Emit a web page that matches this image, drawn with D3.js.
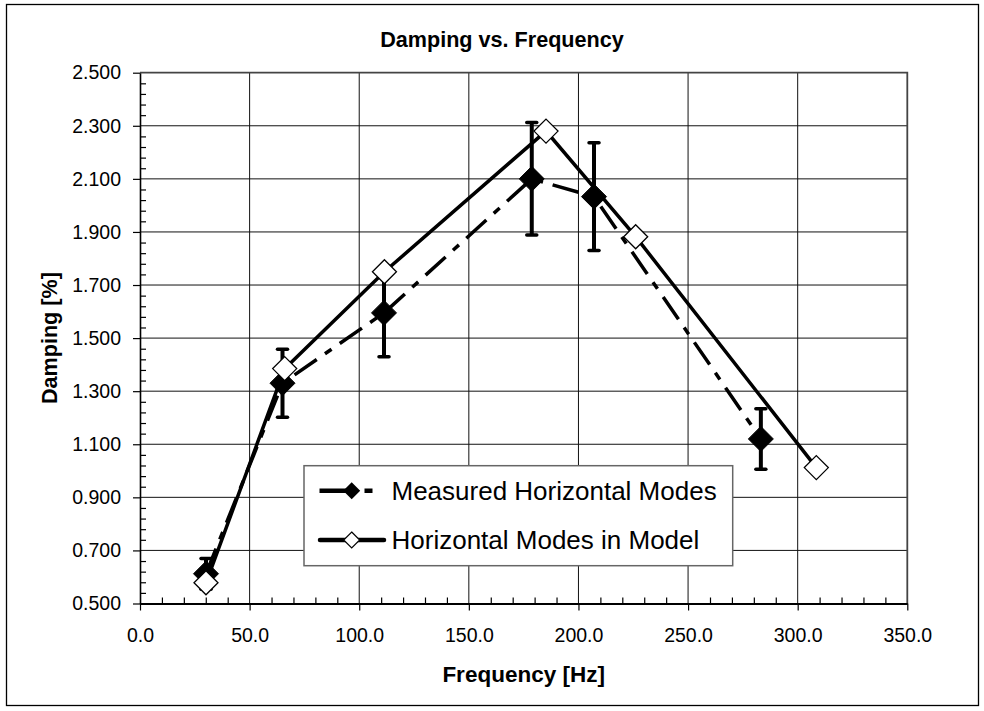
<!DOCTYPE html>
<html>
<head>
<meta charset="utf-8">
<script src="https://cdn.jsdelivr.net/npm/d3@7"></script>
<style>
  html, body { margin: 0; padding: 0; background: #fff; }
  svg { display: block; font-family: "Liberation Sans", Arial, sans-serif; }
</style>
</head>
<body>
<svg id="chart" width="984" height="711"></svg>
<script>
// Measured damping of horizontal modes, with error bars
const measFreq = [30.1, 65.0, 111.3, 178.7, 207.1, 283.2];
const measDamp = [0.612, 1.330, 1.595, 2.100, 2.033, 1.120];
const measErr  = [0.058, 0.128, 0.165, 0.212, 0.203, 0.114];

// Horizontal modes predicted by the model
const modelFreq = [30.1, 66.0, 111.5, 185.2, 226.1, 308.5];
const modelDamp = [0.578, 1.385, 1.750, 2.280, 1.882, 1.012];

// Axis ticks
const xTicks = [0, 50, 100, 150, 200, 250, 300, 350];
const yTicks = [0.5, 0.7, 0.9, 1.1, 1.3, 1.5, 1.7, 1.9, 2.1, 2.3, 2.5];

const seriesNames = ["Measured Horizontal Modes", "Horizontal Modes in Model"];

const svg = d3.select("#chart");
const plot = { left: 140, right: 907.3, top: 72.7, bottom: 603.5 };

const x = d3.scaleLinear().domain([0, 350]).range([plot.left, plot.right]);
const y = d3.scaleLinear().domain([0.5, 2.5]).range([plot.bottom, plot.top]);

// outer chart frame
svg.append("rect")
  .attr("x", 6.5).attr("y", 4.5).attr("width", 972).attr("height", 701)
  .attr("fill", "#fff").attr("stroke", "#000").attr("stroke-width", 1.3);

// title
svg.append("text")
  .attr("x", 502).attr("y", 46.5)
  .attr("text-anchor", "middle")
  .attr("font-size", 21.6).attr("font-weight", "bold")
  .text("Damping vs. Frequency");

// gridlines
const grid = svg.append("g");
grid.selectAll("line.h").data(yTicks.slice(1, -1)).join("line")
  .attr("x1", plot.left).attr("x2", plot.right)
  .attr("y1", d => y(d)).attr("y2", d => y(d))
  .attr("stroke", "#111").attr("stroke-width", 1);
grid.selectAll("line.v").data(xTicks.slice(1, -1)).join("line")
  .attr("y1", plot.top).attr("y2", plot.bottom)
  .attr("x1", d => x(d)).attr("x2", d => x(d))
  .attr("stroke", "#111").attr("stroke-width", 1);

// plot area border (top and right)
svg.append("path")
  .attr("d", `M${plot.left},${plot.top}H${plot.right}V${plot.bottom}`)
  .attr("fill", "none").attr("stroke", "#444").attr("stroke-width", 1.8);

// minor ticks (inside)
const xMinor = d3.range(10, 350, 10).filter(v => v % 50 !== 0);
const yMinor = d3.range(0, 50).map(i => 0.5 + i * 0.04).filter(v => Math.abs((v - 0.5) / 0.2 - Math.round((v - 0.5) / 0.2)) > 0.01);

svg.append("g")
  .attr("transform", `translate(0,${plot.bottom})`)
  .call(d3.axisTop(x).tickValues(xMinor).tickSize(6).tickFormat(""))
  .call(g => g.select(".domain").remove())
  .call(g => g.selectAll("line").attr("stroke", "#000").attr("stroke-width", 1.2));

svg.append("g")
  .attr("transform", `translate(${plot.left},0)`)
  .call(d3.axisRight(y).tickValues(yMinor).tickSize(6).tickFormat(""))
  .call(g => g.select(".domain").remove())
  .call(g => g.selectAll("line").attr("stroke", "#000").attr("stroke-width", 1.2));

// major axes
const xAxis = svg.append("g")
  .attr("transform", `translate(0,${plot.bottom})`)
  .call(d3.axisBottom(x).tickValues(xTicks).tickSize(7).tickSizeOuter(0).tickPadding(18).tickFormat(d3.format(".1f")));
xAxis.select(".domain").attr("stroke", "#000").attr("stroke-width", 2.2);
xAxis.selectAll("line").attr("stroke", "#000").attr("stroke-width", 1.2);
xAxis.selectAll("text").attr("font-size", 19.5).attr("font-family", "Liberation Sans, Arial, sans-serif").attr("fill", "#000");

const yAxis = svg.append("g")
  .attr("transform", `translate(${plot.left},0)`)
  .call(d3.axisLeft(y).tickValues(yTicks).tickSize(7).tickSizeOuter(0).tickPadding(12).tickFormat(d3.format(".3f")));
yAxis.select(".domain").attr("stroke", "#000").attr("stroke-width", 1.6);
yAxis.selectAll("line").attr("stroke", "#000").attr("stroke-width", 1.2);
yAxis.selectAll("text").attr("font-size", 19.5).attr("font-family", "Liberation Sans, Arial, sans-serif").attr("fill", "#000");

// axis titles
svg.append("text")
  .attr("x", (plot.left + plot.right) / 2).attr("y", 681.5)
  .attr("text-anchor", "middle").attr("font-size", 22.5).attr("font-weight", "bold")
  .text("Frequency [Hz]");
svg.append("text")
  .attr("transform", `translate(57,${(plot.top + plot.bottom) / 2}) rotate(-90)`)
  .attr("text-anchor", "middle").attr("font-size", 21.6).attr("font-weight", "bold")
  .text("Damping [%]");

const measured = measFreq.map((f, i) => ({ f, d: measDamp[i], e: measErr[i] }));
const model = modelFreq.map((f, i) => ({ f, d: modelDamp[i] }));

const line = d3.line().x(p => x(p.f)).y(p => y(p.d));
const diamond = (cx, cy, r) => `M${cx},${cy - r}L${cx + r},${cy}L${cx},${cy + r}L${cx - r},${cy}Z`;
const dashPattern = "27,10,8,10";

// error bars
const eb = svg.append("g");
eb.selectAll("line.bar").data(measured).join("line")
  .attr("x1", p => x(p.f)).attr("x2", p => x(p.f))
  .attr("y1", p => y(p.d - p.e)).attr("y2", p => y(p.d + p.e))
  .attr("stroke", "#000").attr("stroke-width", 4);
eb.selectAll("line.capTop").data(measured).join("line")
  .attr("x1", p => x(p.f) - 5).attr("x2", p => x(p.f) + 5)
  .attr("y1", p => y(p.d + p.e)).attr("y2", p => y(p.d + p.e))
  .attr("stroke", "#000").attr("stroke-width", 3.5).attr("stroke-linecap", "round");
eb.selectAll("line.capBot").data(measured).join("line")
  .attr("x1", p => x(p.f) - 5).attr("x2", p => x(p.f) + 5)
  .attr("y1", p => y(p.d - p.e)).attr("y2", p => y(p.d - p.e))
  .attr("stroke", "#000").attr("stroke-width", 3.5).attr("stroke-linecap", "round");

// measured series line
svg.append("path").datum(measured)
  .attr("d", line).attr("fill", "none")
  .attr("stroke", "#000").attr("stroke-width", 3.5)
  .attr("stroke-dasharray", dashPattern);

// model series line
svg.append("path").datum(model)
  .attr("d", line).attr("fill", "none")
  .attr("stroke", "#000").attr("stroke-width", 3.5);

// markers
svg.append("g").selectAll("path").data(measured).join("path")
  .attr("d", p => diamond(x(p.f), y(p.d), 12.5))
  .attr("fill", "#000").attr("stroke", "#000").attr("stroke-width", 1);
svg.append("g").selectAll("path").data(model).join("path")
  .attr("d", p => diamond(x(p.f), y(p.d), 12))
  .attr("fill", "#fff").attr("stroke", "#000").attr("stroke-width", 1.3);

// legend
const lg = svg.append("g");
lg.append("rect")
  .attr("x", 304).attr("y", 465.7).attr("width", 428.7).attr("height", 100)
  .attr("fill", "#fff").attr("stroke", "#666").attr("stroke-width", 1.5);
const rows = [490.7, 540];
// measured entry
lg.append("line").attr("x1", 319.5).attr("x2", 385).attr("y1", rows[0]).attr("y2", rows[0])
  .attr("stroke", "#000").attr("stroke-width", 4.5).attr("stroke-dasharray", "31,14,8,20");
lg.append("path").attr("d", diamond(351.7, rows[0], 8.5)).attr("fill", "#000");
// model entry
lg.append("line").attr("x1", 320).attr("x2", 384).attr("y1", rows[1]).attr("y2", rows[1])
  .attr("stroke", "#000").attr("stroke-width", 4.5).attr("stroke-linecap", "round");
lg.append("path").attr("d", diamond(351.7, rows[1], 8)).attr("fill", "#fff").attr("stroke", "#000").attr("stroke-width", 1.2);
lg.selectAll("text").data(seriesNames).join("text")
  .attr("x", 391.5).attr("y", (d, i) => rows[i])
  .attr("dy", "0.36em").attr("font-size", 26)
  .text(d => d);
</script>
</body>
</html>
